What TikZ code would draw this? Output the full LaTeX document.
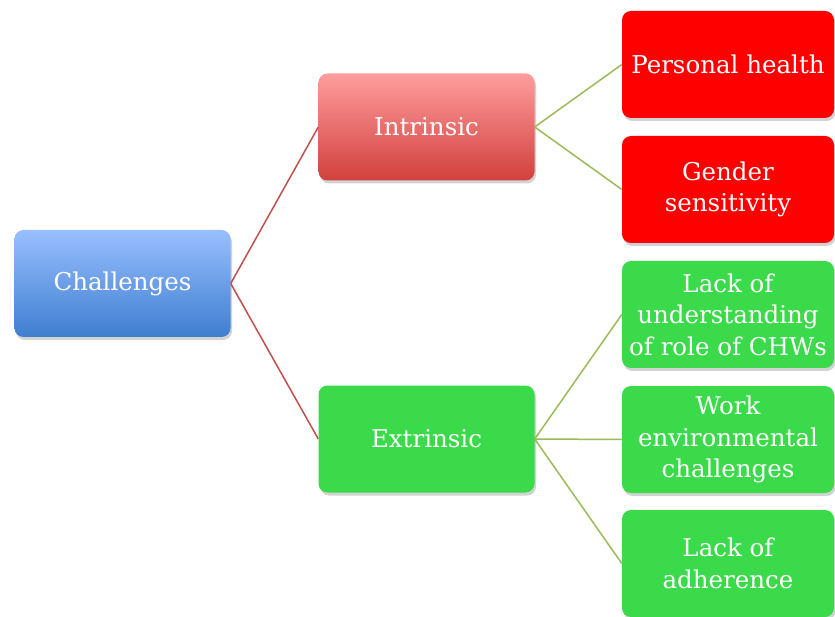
\documentclass[tikz,border=0pt]{standalone}
\usepackage{fontspec}
\setmainfont{DejaVu Serif}
\usetikzlibrary{shadows}
\definecolor{blueT}{HTML}{98BFFF}
\definecolor{blueB}{HTML}{3F7ECF}
\definecolor{redT}{HTML}{FF9D9D}
\definecolor{redB}{HTML}{D1403C}
\definecolor{redF}{HTML}{FF0000}
\definecolor{greenF}{HTML}{3BDA4B}
\definecolor{redLine}{HTML}{C0504D}
\definecolor{greenLine}{HTML}{9BBB59}
\tikzset{
  box/.style={rounded corners=9pt, minimum width=216pt, minimum height=107pt,
    align=center, text=white, inner sep=0pt,
    font=\fontsize{24.5}{31.5}\selectfont,
    drop shadow={opacity=0.35, shadow xshift=1.5pt, shadow yshift=-3pt}},
  rightbox/.style={box, minimum width=212pt},
  bluebox/.style={box, top color=blueT, bottom color=blueB},
  pinkbox/.style={box, top color=redT, bottom color=redB},
  redbox/.style={rightbox, fill=redF},
  greenbox/.style={box, fill=greenF},
  greenright/.style={rightbox, fill=greenF},
  redlink/.style={draw=redLine, line width=1.5pt},
  greenlink/.style={draw=greenLine, line width=1.5pt}
}
\begin{document}
\begin{tikzpicture}[x=1pt,y=-1pt]
\useasboundingbox[fill=white] (0,0) rectangle (835,617);
\node[bluebox] (ch) at (122.5,283.5) {Challenges};
\node[pinkbox] (in) at (426.5,127) {Intrinsic};
\node[greenbox] (ex) at (426.5,439) {Extrinsic};
\node[redbox] (ph) at (728,64.5) {Personal health};
\node[redbox] (gs) at (728,189.5) {Gender\\sensitivity};
\node[greenright] (lu) at (728,314.5) {Lack of\\understanding\\of role of CHWs};
\node[greenright] (we) at (728,439.5) {Work\\environmental\\challenges};
\node[greenright] (la) at (728,563.5) {Lack of\\adherence};
\draw[redlink] (ch.east) -- (in.west);
\draw[redlink] (ch.east) -- (ex.west);
\draw[greenlink] (in.east) -- (ph.west);
\draw[greenlink] (in.east) -- (gs.west);
\draw[greenlink] (ex.east) -- (lu.west);
\draw[greenlink] (ex.east) -- (we.west);
\draw[greenlink] (ex.east) -- (la.west);
\end{tikzpicture}
\end{document}
